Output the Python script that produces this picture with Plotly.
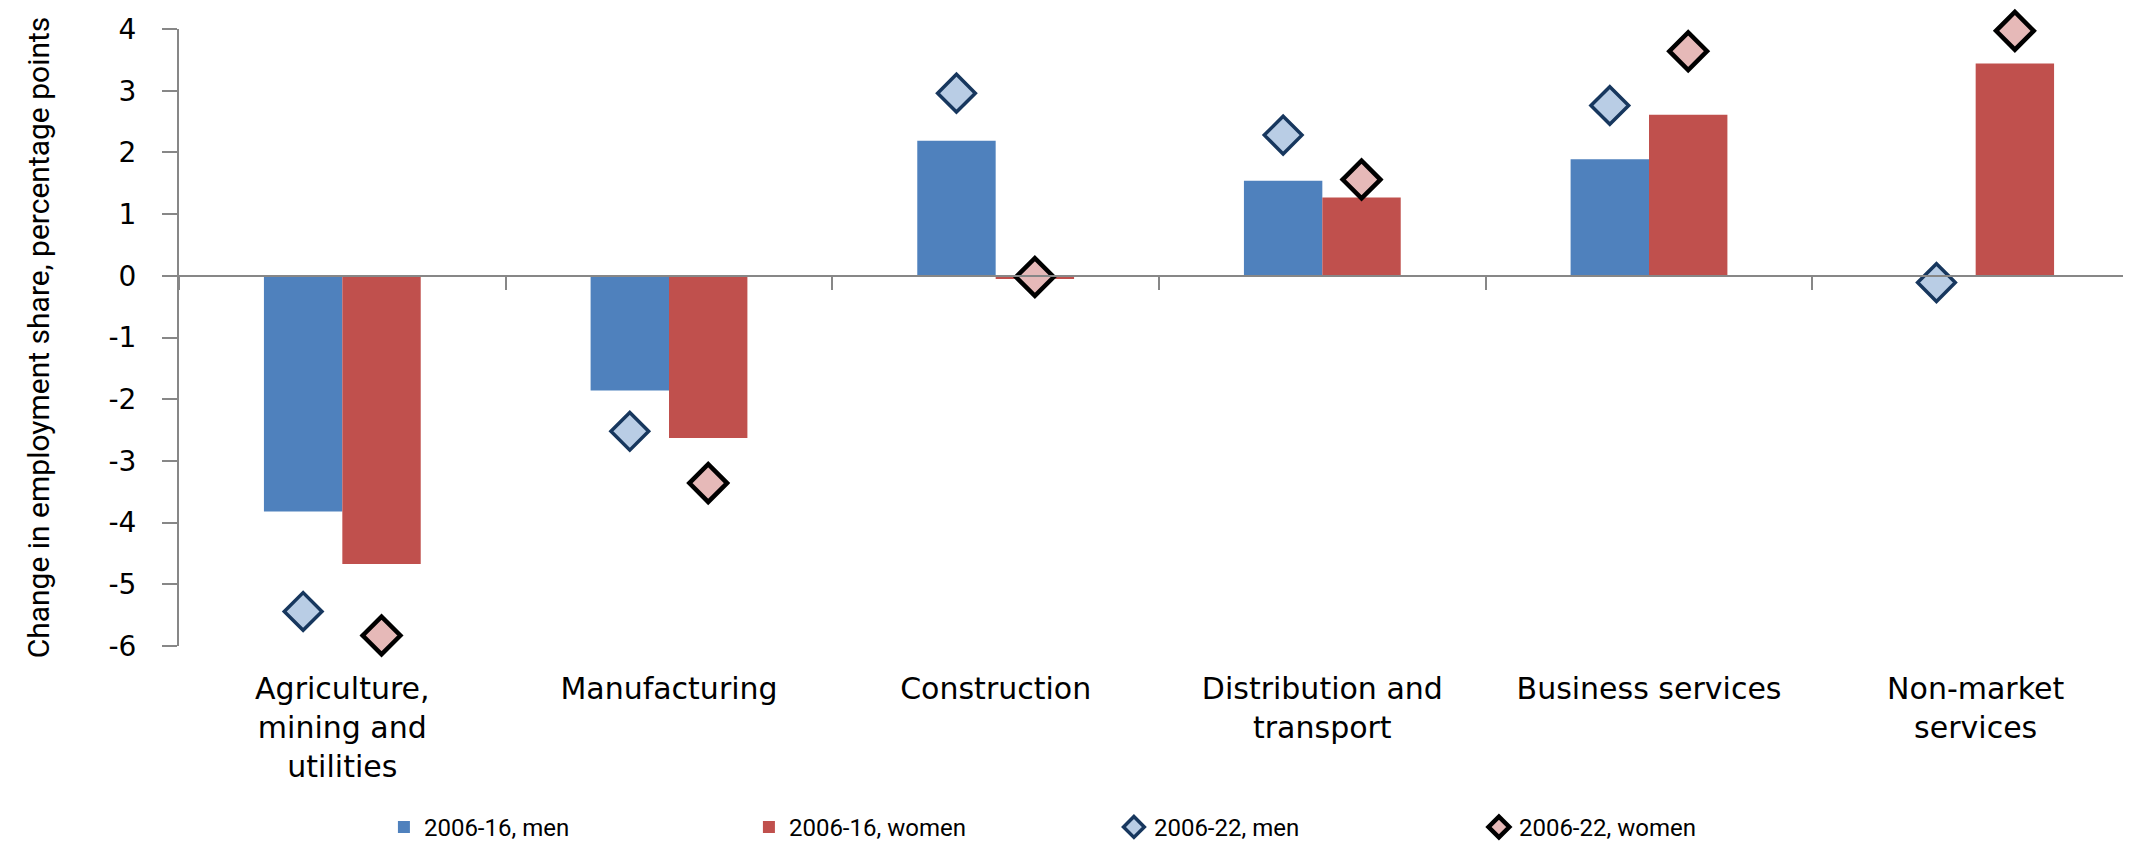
import plotly.graph_objects as go

# sectors (x categories)
sectors = [
    "Agriculture,<br>mining and<br>utilities",
    "Manufacturing",
    "Construction",
    "Distribution and<br>transport",
    "Business services",
    "Non-market<br>services",
]

# change in employment share, percentage points
men_0616 = [-3.82, -1.86, 2.19, 1.54, 1.89, 0.0]
women_0616 = [-4.67, -2.63, -0.05, 1.27, 2.61, 3.44]
men_0622 = [-5.44, -2.52, 2.96, 2.28, 2.76, -0.11]
women_0622 = [-5.83, -3.36, -0.02, 1.56, 3.64, 3.97]

y_ticks = list(range(-6, 5))
y_ticktext = [str(v) for v in y_ticks]  # plain hyphen, not unicode minus

AXIS_GREY = "#878787"

fig = go.Figure()

fig.add_trace(go.Bar(x=sectors, y=men_0616, name="2006-16, men",
                     marker=dict(color="#4F81BD", line=dict(width=0))))
fig.add_trace(go.Bar(x=sectors, y=women_0616, name="2006-16, women",
                     marker=dict(color="#C0504D", line=dict(width=0))))

fig.add_trace(go.Scatter(x=sectors, y=men_0622, name="2006-22, men", mode="markers",
                         cliponaxis=False,
                         marker=dict(symbol="diamond", size=29, color="#B9CDE5",
                                     line=dict(color="#17375E", width=3.5))))
fig.add_trace(go.Scatter(x=sectors, y=women_0622, name="2006-22, women", mode="markers",
                         cliponaxis=False,
                         marker=dict(symbol="diamond", size=29, color="#E6B9B8",
                                     line=dict(color="#000000", width=4.5))))

# invisible helper so the zero-line axis (x2) is drawn
fig.add_trace(go.Scatter(x=sectors, y=[0] * len(sectors), xaxis="x2", mode="markers",
                         marker=dict(opacity=0), showlegend=False, hoverinfo="skip"))

fig.update_layout(
    width=2131, height=842,
    paper_bgcolor="white", plot_bgcolor="white",
    margin=dict(l=171, r=0, t=21, b=199),
    barmode="group", bargap=0.52, bargroupgap=0,
    scattermode="group", scattergap=0.52,
    font=dict(family="DejaVu Sans", size=28, color="#000000"),
    showlegend=True,
    legend=dict(
        orientation="h", x=0.477, xanchor="center", y=-0.294, yanchor="middle",
        font=dict(family="Roboto, sans-serif", size=24),
        entrywidth=320, itemwidth=30, traceorder="normal",
    ),
    xaxis=dict(
        type="category", categoryarray=sectors,
        showline=False, showgrid=False, zeroline=False,
        ticks="", ticklabelstandoff=22,
        tickfont=dict(family="DejaVu Sans", size=30),
    ),
    xaxis2=dict(
        type="category", categoryarray=sectors, matches="x",
        overlaying="x", anchor="free", position=0.6,
        showline=True, linecolor=AXIS_GREY, linewidth=2,
        ticks="outside", tickson="boundaries", ticklen=13, tickwidth=2,
        tickcolor=AXIS_GREY, showticklabels=False, showgrid=False,
    ),
    yaxis=dict(
        range=[-6, 4], tickvals=y_ticks, ticktext=y_ticktext,
        ticks="outside", ticklen=15, tickwidth=2, tickcolor=AXIS_GREY,
        showline=True, linecolor=AXIS_GREY, linewidth=2,
        showgrid=False, zeroline=False, ticklabelstandoff=20,
        tickfont=dict(family="DejaVu Sans", size=28),
        title=dict(text="Change in employment share, percentage points",
                   font=dict(family="Roboto, sans-serif", size=30),
                   standoff=50),
    ),
)

fig.write_html("out.html")
